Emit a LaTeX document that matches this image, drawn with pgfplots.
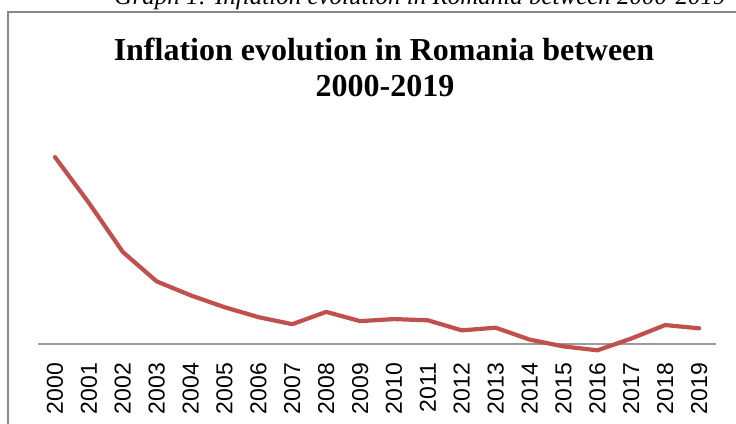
\documentclass[border=0pt]{standalone}
\usepackage{fontspec}
\setmainfont{Liberation Serif}
\newfontfamily\arial{Liberation Sans}
\usepackage{pgfplots}
\pgfplotsset{compat=1.18}
\definecolor{linered}{HTML}{C0504D}
\definecolor{framegray}{HTML}{878787}
\definecolor{axisgray}{HTML}{9A9A9A}
\begin{document}
\begin{tikzpicture}[x=1pt,y=1pt]
\useasboundingbox (0,0) rectangle (736,423);
\draw[framegray, line width=2pt] (8,-20) -- (8,411) -- (760,411);
\node[font=\fontsize{25}{30}\selectfont\itshape, anchor=base, inner sep=0pt] at (420,418) {Graph 1: Inflation evolution in Romania between 2000-2019};
\node[font=\fontsize{32}{36}\selectfont\bfseries, anchor=base, inner sep=0pt] at (384,362) {Inflation evolution in Romania between};
\node[font=\fontsize{32}{36}\selectfont\bfseries, anchor=base, inner sep=0pt] at (385,326) {2000-2019};
\begin{axis}[
  at={(38.05pt,64.7pt)}, anchor=south west,
  scale only axis, width=678pt, height=218.8pt,
  xmin=-0.5, xmax=19.5, ymin=-3.5, ymax=50,
  axis line style={draw=none},
  tick style={draw=none},
  ytick=\empty,
  xtick={0,1,2,3,4,5,6,7,8,9,10,11,12,13,14,15,16,17,18,19},
  xticklabels={2000,2001,2002,2003,2004,2005,2006,2007,2008,2009,2010,2011,2012,2013,2014,2015,2016,2017,2018,2019},
  xticklabel style={rotate=90, anchor=east, font=\arial\fontsize{23}{23}\selectfont, inner sep=4.5pt},
  clip=false,
]
\draw[axisgray, line width=1.3pt] (axis cs:-0.5,0) -- (axis cs:19.5,0);
\addplot[linered, line width=4.2pt, line join=round, line cap=round] coordinates {
(0,45.7) (1,34.5) (2,22.5) (3,15.3) (4,11.9) (5,9.0) (6,6.56) (7,4.84) (8,7.85) (9,5.59)
(10,6.09) (11,5.79) (12,3.33) (13,3.98) (14,1.07) (15,-0.59) (16,-1.55) (17,1.34) (18,4.63) (19,3.83)
};
\end{axis}
\end{tikzpicture}
\end{document}
